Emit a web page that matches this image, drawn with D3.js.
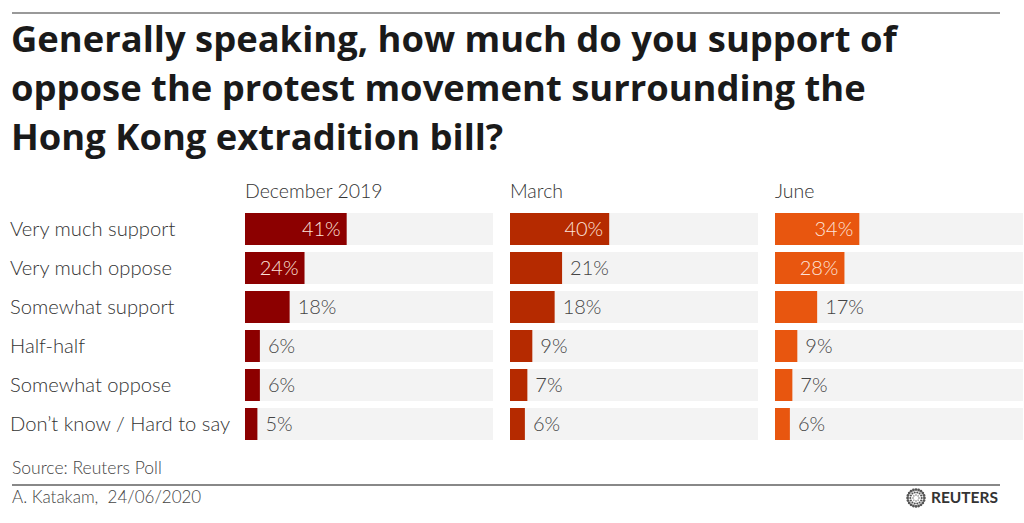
<!DOCTYPE html>
<html>
<head>
<meta charset="utf-8">
<script src="https://cdn.jsdelivr.net/npm/d3@7"></script>
<style>
  body { margin: 0; background: #fff; }
  text { font-family: "Source Sans Pro", Lato, "Noto Sans", sans-serif; }
</style>
</head>
<body>
<div id="chart"></div>
<script>
// Data
let categories = ['Very much support', 'Very much oppose', 'Somewhat support',
  'Half-half', 'Somewhat oppose', 'Don\u2019t know / Hard to say'];
let periods = ['December 2019', 'March', 'June'];
let dec2019 = [41, 24, 18, 6, 6, 5];
let march = [40, 21, 18, 9, 7, 6];
let june = [34, 28, 17, 9, 7, 6];
let seriesValues = [dec2019, march, june];
let colors = ['#8c0000', '#b52a00', '#e8560f'];

let titleLines = ['Generally speaking, how much do you support of',
  'oppose the protest movement surrounding the',
  'Hong Kong extradition bill?'];

// SVG setup
let svgWidth = 1024;
let svgHeight = 523;

let svg = d3.select('#chart')
  .append('svg')
  .attr('width', svgWidth)
  .attr('height', svgHeight);

// Top rule
svg.append('line')
  .attr('x1', 12).attr('x2', 1000)
  .attr('y1', 13).attr('y2', 13)
  .attr('stroke', '#777')
  .attr('stroke-width', 1.5);

// Title
let title = svg.append('text')
  .attr('x', 11)
  .attr('font-size', 34)
  .attr('font-weight', 700)
  .style('font-family', '"Open Sans", sans-serif')
  .attr('fill', '#1a1a1a');

title.selectAll('tspan')
  .data(titleLines)
  .enter()
  .append('tspan')
  .attr('x', 11)
  .attr('y', (d, i) => 52 + i * 49)
  .text(d => d);

// fit first line to the reference width
let firstLen = title.select('tspan').node().getComputedTextLength();
title.attr('font-size', 34 * 886 / firstLen);

// Panel layout
let panelX = [245, 510, 775];
let panelWidth = 248;

let y = d3.scaleBand()
  .domain(categories)
  .range([213, 213 + 39 * 6 - 7])
  .paddingInner(7 / 39)
  .paddingOuter(0);

let x = d3.scaleLinear()
  .domain([0, 100])
  .range([0, panelWidth]);

// Row labels
svg.append('g')
  .selectAll('text')
  .data(categories)
  .enter()
  .append('text')
  .attr('x', 10)
  .attr('y', d => y(d) + y.bandwidth() / 2)
  .attr('dy', '0.35em')
  .attr('font-size', 20.2)
  .attr('font-weight', 300)
  .attr('fill', '#333')
  .text(d => d);

// Panels
periods.forEach(function(period, p) {
  let g = svg.append('g')
    .attr('transform', `translate(${panelX[p]}, 0)`);

  g.append('text')
    .attr('x', 0)
    .attr('y', 198)
    .attr('font-size', 19.5)
    .attr('font-weight', 300)
    .attr('fill', '#333')
    .text(period);

  let rows = categories.map((c, i) => ({ cat: c, value: seriesValues[p][i] }));

  g.selectAll('.bg')
    .data(rows)
    .enter()
    .append('rect')
    .attr('class', 'bg')
    .attr('x', 0)
    .attr('y', d => y(d.cat))
    .attr('width', panelWidth)
    .attr('height', y.bandwidth())
    .attr('fill', '#f3f3f3');

  g.selectAll('.bar')
    .data(rows)
    .enter()
    .append('rect')
    .attr('class', 'bar')
    .attr('x', 0)
    .attr('y', d => y(d.cat))
    .attr('width', d => x(d.value))
    .attr('height', y.bandwidth())
    .attr('fill', colors[p]);

  // big bars get the label inside
  g.selectAll('.val')
    .data(rows)
    .enter()
    .append('text')
    .attr('class', 'val')
    .attr('x', d => d.value > 22 ? x(d.value) - 6 : x(d.value) + 8)
    .attr('y', d => y(d.cat) + y.bandwidth() / 2)
    .attr('dy', '0.35em')
    .attr('text-anchor', d => d.value > 22 ? 'end' : 'start')
    .attr('font-size', 20)
    .attr('font-weight', 300)
    .attr('fill', d => d.value > 22 ? '#fde3da' : '#444')
    .text(d => d.value + '%');
});

// Source
svg.append('text')
  .attr('x', 12)
  .attr('y', 474)
  .attr('font-size', 17.5)
  .attr('font-weight', 300)
  .attr('fill', '#444')
  .text('Source: Reuters Poll');

// Bottom rule
svg.append('line')
  .attr('x1', 12).attr('x2', 1000)
  .attr('y1', 485).attr('y2', 485)
  .attr('stroke', '#888')
  .attr('stroke-width', 2);

svg.append('text')
  .attr('x', 12)
  .attr('y', 503)
  .attr('font-size', 17)
  .attr('font-weight', 300)
  .attr('fill', '#444')
  .text('A. Katakam,\u00a0 24/06/2020');

// Reuters logo
let logo = svg.append('g')
  .attr('transform', 'translate(916, 498)');

d3.range(3).forEach(function(ring) {
  let r = 3 + ring * 2.7;
  let n = 8 + ring * 6;
  logo.selectAll('.ring' + ring)
    .data(d3.range(n))
    .enter()
    .append('circle')
    .attr('cx', d => r * Math.cos(d / n * 2 * Math.PI))
    .attr('cy', d => r * Math.sin(d / n * 2 * Math.PI))
    .attr('r', 0.7 + ring * 0.35)
    .attr('fill', '#555');
});

svg.append('text')
  .attr('x', 998)
  .attr('y', 503)
  .attr('text-anchor', 'end')
  .attr('font-size', 15.5)
  .attr('font-weight', 700)
  .attr('fill', '#333')
  .text('REUTERS');
</script>
</body>
</html>
